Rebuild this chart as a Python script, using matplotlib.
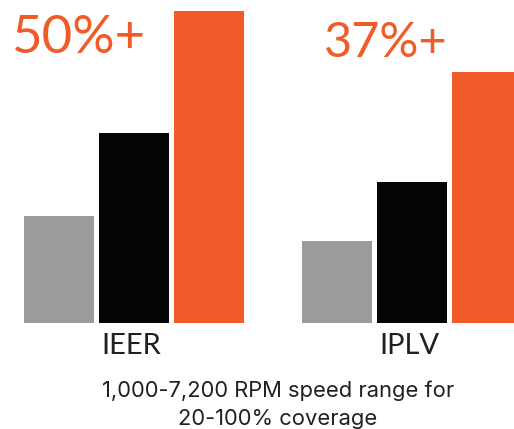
import matplotlib
matplotlib.use("Agg")
import matplotlib.pyplot as plt
import numpy as np

# data
groups = ["IEER", "IPLV"]
gray_vals = [107, 82]
black_vals = [190, 141]
orange_vals = [312, 251]
callouts = ["50%+", "37%+"]
caption = ["1,000-7,200 RPM speed range for", "20-100% coverage"]

GRAY = "#9b9b9b"
BLACK = "#050505"
ORANGE = "#f15a29"
TEXT = "#231f20"

plt.rcParams['font.family'] = ['Lato', 'DejaVu Sans']

fig = plt.figure(figsize=(5.14, 4.29), dpi=100)
ax = fig.add_axes([0, 106 / 429, 1, 323 / 429])

x = np.arange(len(groups))
w = 70 / 278
step = 75 / 278
ax.bar(x - step, gray_vals, width=w, color=GRAY)
ax.bar(x, black_vals, width=w, color=BLACK)
ax.bar(x + step, orange_vals, width=w, color=ORANGE)

ax.set_xlim(-134 / 278, 380 / 278)
ax.set_ylim(0, 323)
ax.axis("off")

# group labels under the bars
for i, g in enumerate(groups):
    ax.text(i - 0.01, -31 / 323, g, transform=ax.get_xaxis_transform(),
            ha="center", va="baseline", fontsize=21, color=TEXT, clip_on=False)

# big callouts
fig.text(78.5 / 514, 375.7 / 429, callouts[0], ha="center", va="baseline",
         fontsize=38, color=ORANGE)
fig.text(386 / 514, 372.3 / 429, callouts[1], ha="center", va="baseline",
         fontsize=35, color=ORANGE)

# caption
cap_font = ['Inter', 'DejaVu Sans']
fig.text(278 / 514, 32 / 429, caption[0], ha="center", va="baseline",
         fontsize=15.8, color=TEXT, family=cap_font)
fig.text(278 / 514, 4 / 429, caption[1], ha="center", va="baseline",
         fontsize=15.8, color=TEXT, family=cap_font)

fig.savefig("out.png", dpi=100)
